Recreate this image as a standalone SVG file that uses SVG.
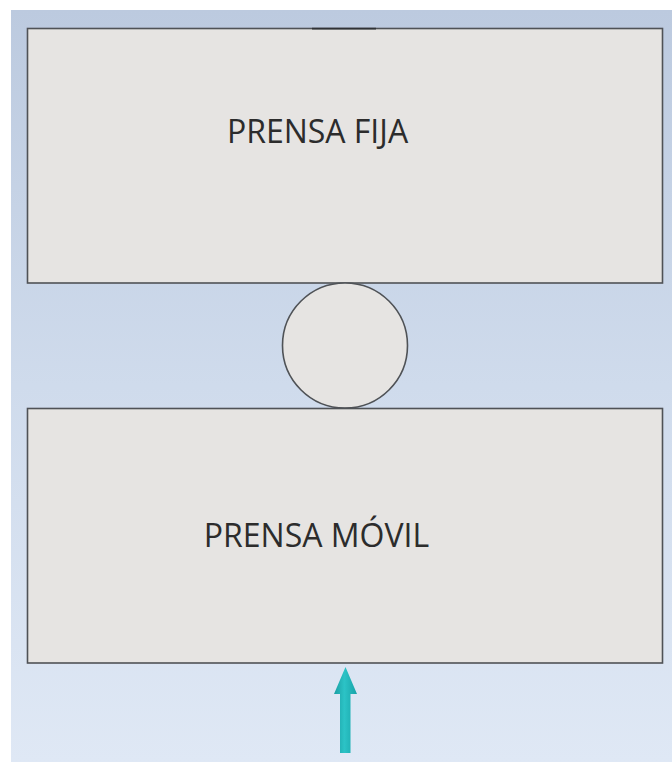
<svg xmlns="http://www.w3.org/2000/svg" width="672" height="762" viewBox="0 0 672 762">
  <defs>
    <linearGradient id="bg" x1="0" y1="0" x2="0" y2="1">
      <stop offset="0" stop-color="#bccadf"/>
      <stop offset="0.5" stop-color="#cfdbec"/>
      <stop offset="1" stop-color="#dfe8f5"/>
    </linearGradient>
    <linearGradient id="teal" x1="0" y1="0" x2="1" y2="0">
      <stop offset="0" stop-color="#1a9ea3"/>
      <stop offset="0.45" stop-color="#2cc3c6"/>
      <stop offset="1" stop-color="#17a3a8"/>
    </linearGradient>
    <style>
      .part { fill: #e6e4e2; stroke: #4f5256; stroke-width: 1.6; }
      .label { font-family: "Open Sans", "Noto Sans", sans-serif; font-size: 32px; fill: #2c2c2c; text-anchor: middle; }
    </style>
  </defs>

  <!-- page and viewport background -->
  <rect x="0" y="0" width="672" height="762" fill="#ffffff"/>
  <rect x="11" y="10" width="661" height="752" fill="url(#bg)"/>

  <!-- fixed jaw -->
  <g id="prensa-fija">
    <rect class="part" x="27.5" y="28.5" width="635" height="254.5"/>
    <line x1="312" y1="28.6" x2="376" y2="28.6" stroke="#2f3236" stroke-width="1.8"/>
    <text class="label" x="317.5" y="143">PRENSA FIJA</text>
  </g>

  <!-- workpiece -->
  <g id="pieza">
    <circle class="part" cx="345" cy="345.5" r="62.5"/>
  </g>

  <!-- moving jaw -->
  <g id="prensa-movil">
    <rect class="part" x="27.5" y="408.5" width="635" height="254.5"/>
    <text class="label" x="316.5" y="547">PRENSA MÓVIL</text>
  </g>

  <!-- applied force -->
  <g id="conectores">
    <path d="M340,694 L334,694 L345.5,667 L357,694 L350.5,694 L350.5,753 L340,753 Z" fill="url(#teal)"/>
  </g>
</svg>
